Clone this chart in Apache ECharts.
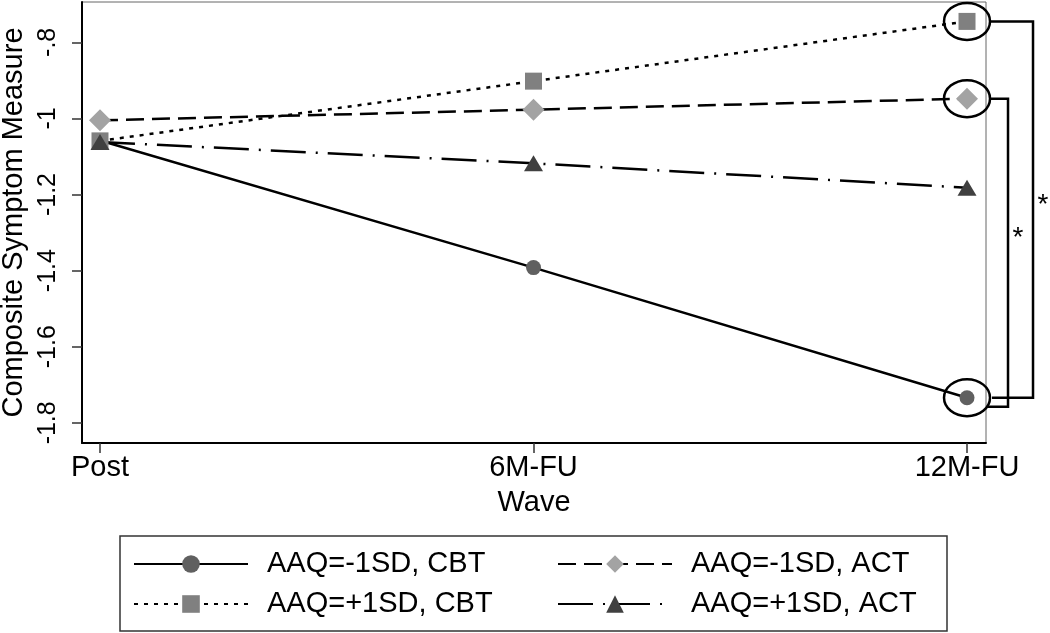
<!DOCTYPE html>
<html>
<head>
<meta charset="utf-8">
<script src="https://cdn.jsdelivr.net/npm/echarts@6/dist/echarts.min.js"></script>
<style>html,body{margin:0;padding:0;background:#fff;}#c{width:1050px;height:633px;}</style>
</head>
<body>
<div id="c"></div>
<script>
// ---- data ----
const waves = ['Post', '6M-FU', '12M-FU'];
const yTicks = [-1.8, -1.6, -1.4, -1.2, -1, -0.8];
const yTickLabels = ['-1.8', '-1.6', '-1.4', '-1.2', '-1', '-.8'];
const seriesNames = ['AAQ=-1SD, CBT', 'AAQ=-1SD, ACT', 'AAQ=+1SD, CBT', 'AAQ=+1SD, ACT'];
const lowCBT  = [-1.058, -1.392, -1.734];
const lowACT  = [-1.005, -0.977, -0.948];
const highCBT = [-1.059, -0.902, -0.745];
const highACT = [-1.062, -1.118, -1.182];

const FONT = 'Liberation Sans, Arial, Helvetica, sans-serif';
const toPairs = arr => arr.map((v, i) => [i, v]);

const chart = echarts.init(document.getElementById('c'), null, {renderer: 'canvas'});

function mkSeries(name, data, symbol, size, color, lineType) {
  return {
    name: name, type: 'line', data: toPairs(data),
    symbol: symbol, symbolSize: size, showSymbol: true,
    itemStyle: {color: color, borderWidth: 0},
    lineStyle: {color: '#000', width: 2.5, type: lineType},
    emphasis: {disabled: true}, animation: false, z: 3
  };
}

const legendCommon = {
  orient: 'vertical', top: 549,
  itemWidth: 114, itemHeight: 22, itemGap: 10, padding: 0,
  textStyle: {fontSize: 29, color: '#000', fontFamily: FONT, lineHeight: 30, padding: [0, 0, 0, 14]},
  selectedMode: false
};

const option = {
  animation: false,
  backgroundColor: '#fff',
  textStyle: {fontFamily: FONT},
  grid: {left: 82, top: 2, right: 64, bottom: 190, show: true, borderColor: '#666', borderWidth: 1,
    containLabel: false, outerBoundsMode: 'none'},
  xAxis: {
    type: 'value', min: -0.0415, max: 2.0438,
    name: 'Wave', nameLocation: 'middle', nameGap: 45,
    nameTextStyle: {fontSize: 29, color: '#000', fontFamily: FONT},
    axisLine: {show: true, onZero: false, lineStyle: {color: '#000', width: 2}},
    axisTick: {show: true, length: 10, customValues: [0, 1, 2], lineStyle: {color: '#333', width: 1.5}},
    axisLabel: {customValues: [0, 1, 2], fontSize: 29, color: '#000', margin: 10, fontFamily: FONT,
      formatter: v => waves[Math.round(v)]},
    splitLine: {show: false}
  },
  yAxis: {
    type: 'value', min: -1.853, max: -0.694,
    name: 'Composite Symptom Measure', nameLocation: 'middle', nameGap: 52,
    nameTextStyle: {fontSize: 29, color: '#000', fontFamily: FONT},
    axisLine: {show: true, onZero: false, lineStyle: {color: '#000', width: 2}},
    axisTick: {show: true, length: 10, customValues: yTicks, lineStyle: {color: '#333', width: 1.5}},
    axisLabel: {customValues: yTicks, rotate: 90, fontSize: 25, color: '#000', margin: 21, fontFamily: FONT,
      formatter: v => { const i = yTicks.findIndex(t => Math.abs(t - v) < 1e-6); return i >= 0 ? yTickLabels[i] : ''; }},
    splitLine: {show: false}
  },
  legend: [
    Object.assign({}, legendCommon, {data: [seriesNames[0], seriesNames[2]], left: 133}),
    Object.assign({}, legendCommon, {data: [seriesNames[1], seriesNames[3]], left: 557})
  ],
  series: [
    mkSeries(seriesNames[0], lowCBT, 'circle', 15, '#606060', 'solid'),
    mkSeries(seriesNames[1], lowACT, 'diamond', 22, '#a3a3a3', [18, 8]),
    mkSeries(seriesNames[2], highCBT, 'rect', 17, '#808080', [4, 6]),
    mkSeries(seriesNames[3], highACT, 'triangle', [19, 16], '#404040', [35, 10, 2, 10])
  ]
};
chart.setOption(option);

// ---- annotations (circles, brackets, asterisks) positioned from data ----
const last = waves.length - 1;
const pLow = chart.convertToPixel({gridIndex: 0}, [last, lowCBT[last]]);
const pAct = chart.convertToPixel({gridIndex: 0}, [last, lowACT[last]]);
const pHigh = chart.convertToPixel({gridIndex: 0}, [last, highCBT[last]]);
const stroke = {stroke: '#000', lineWidth: 2.5, fill: 'none'};
const ell = p => ({type: 'ellipse', shape: {cx: p[0], cy: p[1], rx: 23, ry: 18.5}, style: stroke, z: 10, silent: true});
const graphics = [
  ell(pLow), ell(pAct), ell(pHigh),
  {type: 'polyline', shape: {points: [[pHigh[0] + 23, pHigh[1]], [pHigh[0] + 66, pHigh[1]], [pHigh[0] + 66, pLow[1]], [pLow[0] + 25, pLow[1]]]}, style: stroke, z: 10, silent: true},
  {type: 'polyline', shape: {points: [[pAct[0] + 23, pAct[1]], [pAct[0] + 41, pAct[1]], [pAct[0] + 41, pLow[1] + 9], [pLow[0] + 20, pLow[1] + 9]]}, style: stroke, z: 10, silent: true},
  {type: 'text', x: pHigh[0] + 76, y: (pHigh[1] + pLow[1]) / 2 - 4, style: {text: '*', fontSize: 28, fontFamily: FONT, fill: '#000', textAlign: 'center', textVerticalAlign: 'middle'}, z: 10, silent: true},
  {type: 'text', x: pAct[0] + 51, y: (pAct[1] + pLow[1]) / 2 - 10, style: {text: '*', fontSize: 28, fontFamily: FONT, fill: '#000', textAlign: 'center', textVerticalAlign: 'middle'}, z: 10, silent: true},
  {type: 'rect', shape: {x: 120, y: 536, width: 827, height: 95}, style: {stroke: '#333', lineWidth: 1.5, fill: 'none'}, z: 0, silent: true}
];
chart.setOption({graphic: graphics});
</script>
</body>
</html>
